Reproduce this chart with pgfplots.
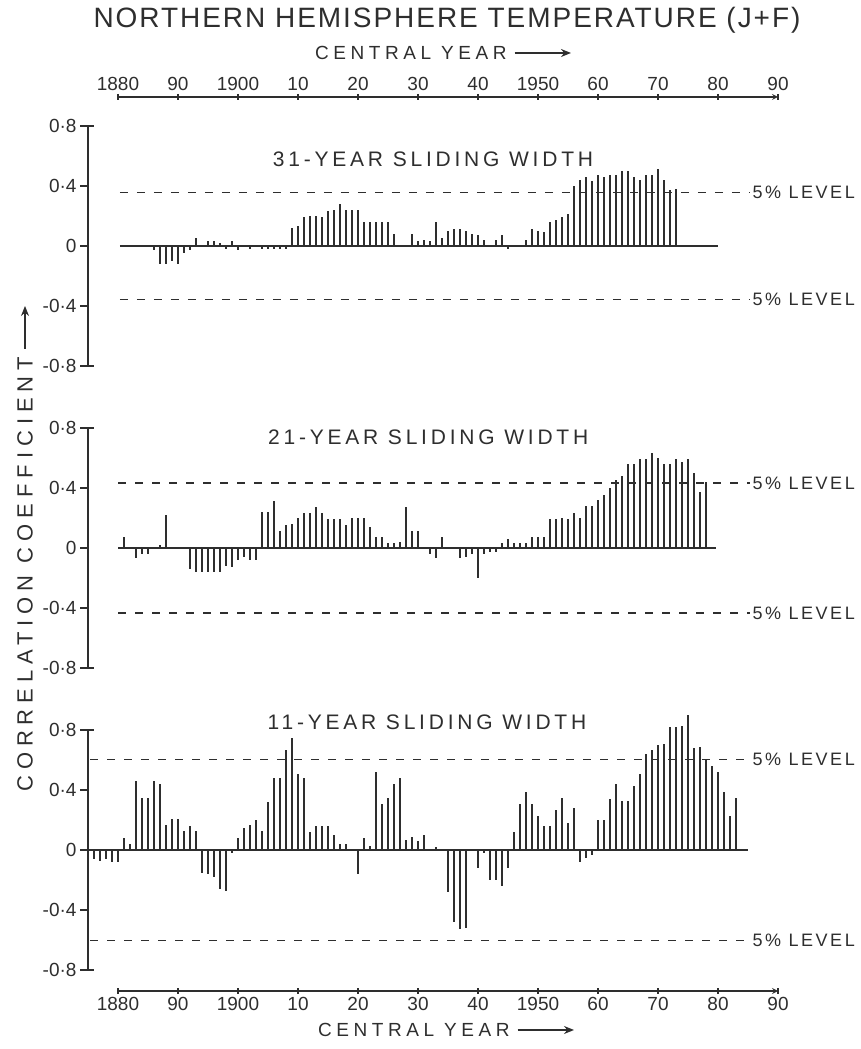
\documentclass[border=0pt]{standalone}
\usepackage{fontspec}
\setmainfont{Liberation Sans}
\newfontfamily\titlefont[LetterSpace=7]{Liberation Sans}
\newfontfamily\panelfont[LetterSpace=18]{Liberation Sans}
\newfontfamily\ylabfont[LetterSpace=27]{Liberation Sans}
\newfontfamily\cyfont[LetterSpace=24]{Liberation Sans}
\newfontfamily\levfont[LetterSpace=14]{Liberation Sans}
\usepackage{pgfplots}
\pgfplotsset{compat=1.18}
\usetikzlibrary{arrows.meta}
\definecolor{ink}{HTML}{2E2E2E}
\begin{document}
\begin{tikzpicture}
\useasboundingbox (0pt,0pt) rectangle (860pt,1049pt);
\pgfplotsset{
  panel/.style={
    scale only axis, width=690pt, height=240pt,
    xmin=1875, xmax=1990, ymin=-0.8, ymax=0.8,
    axis x line=none, axis y line=left,
    y axis line style={-, ink, line width=1.6pt},
    ytick={-0.8,-0.4,0,0.4,0.8},
    yticklabels={-0·8,-0·4,0,0·4,0·8},
    tick align=outside, major tick length=8pt,
    ytick style={ink, line width=1.6pt},
    yticklabel style={font=\fontsize{19}{20}\selectfont, text=ink},
    clip=false,
  },
  bars/.style={ycomb, ink, line width=1.8pt, mark=none},
  zline/.style={ink, line width=1.6pt, mark=none},
  lev/.style={ink, line width=1.4pt, dash pattern=on 8pt off 9pt, mark=none},
  xax/.style={
    scale only axis, width=660pt, height=10pt,
    xmin=1880, xmax=1990, ymin=0, ymax=1, hide y axis,
    x axis line style={-, ink, line width=1.6pt},
    xtick={1880,1890,...,1990},
    xticklabels={1880,90,1900,10,20,30,40,1950,60,70,80,90},
    tick align=inside, major tick length=6pt,
    xtick style={ink, line width=1.6pt},
    xticklabel style={font=\fontsize{19}{20}\selectfont, text=ink},
  },
}
% ---------- title ----------
\node[font=\titlefont\fontsize{28}{32}\selectfont, text=ink] at (447pt,1029pt) {NORTHERN HEMISPHERE TEMPERATURE (J+F)};
\node[anchor=west, inner sep=0, font=\cyfont\fontsize{19}{20}\selectfont, text=ink] (cy1) at (315pt,996pt) {CENTRAL YEAR};
\draw[ink, line width=1.6pt, -{Stealth[length=10pt,width=8pt]}] ([xshift=8pt]cy1.east) -- (571pt,996pt);
% ---------- top x axis ----------
\begin{axis}[xax, at={(118pt,952pt)}, anchor=north west, axis x line=top]
\end{axis}
% ---------- 31-year ----------
\begin{axis}[panel, at={(88pt,683pt)}, anchor=south west]
\addplot[zline] coordinates {(1880.3,0) (1980,0)};
\addplot[lev] coordinates {(1880.3,0.355) (1985.3,0.355)};
\addplot[lev] coordinates {(1880.3,-0.355) (1985.3,-0.355)};
\addplot[bars] coordinates {
(1886,-0.03) (1887,-0.12) (1888,-0.12) (1889,-0.10) (1890,-0.12) (1891,-0.05) (1892,-0.03) (1893,0.05)
(1895,0.03) (1896,0.03) (1897,0.02) (1898,-0.02) (1899,0.03) (1900,-0.03) (1902,-0.02)
(1904,-0.02) (1905,-0.02) (1906,-0.02) (1907,-0.02) (1908,-0.02)
(1909,0.12) (1910,0.13) (1911,0.19) (1912,0.20) (1913,0.20) (1914,0.19) (1915,0.23) (1916,0.24)
(1917,0.28) (1918,0.24) (1919,0.24) (1920,0.24) (1921,0.16) (1922,0.16) (1923,0.16) (1924,0.16)
(1925,0.16) (1926,0.08) (1929,0.08) (1930,0.03) (1931,0.04) (1932,0.03) (1933,0.16) (1934,0.05)
(1935,0.10) (1936,0.11) (1937,0.11) (1938,0.10) (1939,0.08) (1940,0.07) (1941,0.04) (1943,0.04)
(1944,0.07) (1945,-0.02) (1948,0.04) (1949,0.11) (1950,0.10) (1951,0.09) (1952,0.16) (1953,0.17)
(1954,0.19) (1955,0.21) (1956,0.40) (1957,0.44) (1958,0.46) (1959,0.43) (1960,0.47) (1961,0.46)
(1962,0.47) (1963,0.47) (1964,0.50) (1965,0.50) (1966,0.46) (1967,0.44) (1968,0.47) (1969,0.47)
(1970,0.51) (1971,0.44) (1972,0.37) (1973,0.38)};
\draw[ink, line width=1.6pt] (rel axis cs:0,1) -- ++(6pt,0pt);
\draw[ink, line width=1.6pt] (rel axis cs:0,0) -- ++(6pt,0pt);
\node[font=\panelfont\fontsize{21}{24}\selectfont, text=ink] at (axis cs:1932.5,0.58) {31-YEAR SLIDING WIDTH};
\node[anchor=west, inner sep=2pt, font=\levfont\fontsize{18}{20}\selectfont, text=ink] at (axis cs:1985.4,0.355) {5\% LEVEL};
\node[anchor=west, inner sep=2pt, font=\levfont\fontsize{18}{20}\selectfont, text=ink] at (axis cs:1985.4,-0.355) {5\% LEVEL};
\end{axis}
% ---------- 21-year ----------
\begin{axis}[panel, at={(88pt,381pt)}, anchor=south west]
\addplot[zline] coordinates {(1880,0) (1979.7,0)};
\addplot[lev] coordinates {(1880,0.433) (1985.3,0.433)};
\addplot[lev] coordinates {(1880,-0.433) (1985.3,-0.433)};
\addplot[bars] coordinates {
(1881,0.07) (1883,-0.07) (1884,-0.04) (1885,-0.04) (1887,0.02) (1888,0.22) (1889,-0.01)
(1892,-0.14) (1893,-0.16) (1894,-0.16) (1895,-0.16) (1896,-0.16) (1897,-0.16) (1898,-0.12)
(1899,-0.13) (1900,-0.08) (1901,-0.06) (1902,-0.08) (1903,-0.08) (1904,0.24) (1905,0.24)
(1906,0.31) (1907,0.11) (1908,0.15) (1909,0.16) (1910,0.20) (1911,0.23) (1912,0.23) (1913,0.27)
(1914,0.23) (1915,0.19) (1916,0.19) (1917,0.19) (1918,0.15) (1919,0.20) (1920,0.20) (1921,0.20)
(1922,0.14) (1923,0.07) (1924,0.07) (1925,0.03) (1926,0.03) (1927,0.04) (1928,0.27) (1929,0.11)
(1930,0.11) (1932,-0.04) (1933,-0.07) (1934,0.07) (1937,-0.07) (1938,-0.06) (1939,-0.04)
(1940,-0.20) (1941,-0.04) (1942,-0.03) (1943,-0.03) (1944,0.03) (1945,0.06) (1946,0.03)
(1947,0.03) (1948,0.03) (1949,0.07) (1950,0.07) (1951,0.07) (1952,0.19) (1953,0.19) (1954,0.20)
(1955,0.19) (1956,0.23) (1957,0.20) (1958,0.28) (1959,0.28) (1960,0.32) (1961,0.35) (1962,0.40)
(1963,0.45) (1964,0.48) (1965,0.56) (1966,0.56) (1967,0.59) (1968,0.59) (1969,0.63) (1970,0.60)
(1971,0.56) (1972,0.56) (1973,0.59) (1974,0.57) (1975,0.59) (1976,0.50) (1977,0.37) (1978,0.44)};
\draw[ink, line width=1.6pt] (rel axis cs:0,1) -- ++(6pt,0pt);
\draw[ink, line width=1.6pt] (rel axis cs:0,0) -- ++(6pt,0pt);
\node[font=\panelfont\fontsize{21}{24}\selectfont, text=ink] at (axis cs:1931.7,0.74) {21-YEAR SLIDING WIDTH};
\node[anchor=west, inner sep=2pt, font=\levfont\fontsize{18}{20}\selectfont, text=ink] at (axis cs:1985.4,0.433) {5\% LEVEL};
\node[anchor=west, inner sep=2pt, font=\levfont\fontsize{18}{20}\selectfont, text=ink] at (axis cs:1985.4,-0.433) {5\% LEVEL};
\end{axis}
% ---------- 11-year ----------
\begin{axis}[panel, at={(88pt,79pt)}, anchor=south west]
\addplot[zline] coordinates {(1875,0) (1985,0)};
\addplot[lev] coordinates {(1875.4,0.602) (1985.3,0.602)};
\addplot[lev] coordinates {(1875.4,-0.602) (1985.3,-0.602)};
\addplot[bars] coordinates {
(1876,-0.06) (1877,-0.07) (1878,-0.06) (1879,-0.08) (1880,-0.08) (1881,0.08) (1882,0.04)
(1883,0.46) (1884,0.35) (1885,0.35) (1886,0.46) (1887,0.44) (1888,0.17) (1889,0.21) (1890,0.21)
(1891,0.13) (1892,0.16) (1893,0.13) (1894,-0.15) (1895,-0.16) (1896,-0.18) (1897,-0.26)
(1898,-0.27) (1899,-0.02) (1900,0.08) (1901,0.15) (1902,0.17) (1903,0.20) (1904,0.13) (1905,0.32)
(1906,0.48) (1907,0.48) (1908,0.67) (1909,0.75) (1910,0.51) (1911,0.48) (1912,0.12) (1913,0.16)
(1914,0.16) (1915,0.16) (1916,0.10) (1917,0.04) (1918,0.04) (1920,-0.16) (1921,0.08) (1922,0.03)
(1923,0.52) (1924,0.31) (1925,0.35) (1926,0.44) (1927,0.48) (1928,0.07) (1929,0.09) (1930,0.06)
(1931,0.10) (1933,0.02) (1935,-0.28) (1936,-0.48) (1937,-0.53) (1938,-0.52) (1940,-0.12)
(1941,-0.02) (1942,-0.20) (1943,-0.20) (1944,-0.24) (1945,-0.12) (1946,0.12) (1947,0.31)
(1948,0.39) (1949,0.31) (1950,0.23) (1951,0.16) (1952,0.16) (1953,0.27) (1954,0.35) (1955,0.18)
(1956,0.28) (1957,-0.08) (1958,-0.05) (1959,-0.03) (1960,0.20) (1961,0.20) (1962,0.34) (1963,0.44)
(1964,0.33) (1965,0.33) (1966,0.43) (1967,0.51) (1968,0.64) (1969,0.67) (1970,0.70) (1971,0.71)
(1972,0.82) (1973,0.82) (1974,0.83) (1975,0.90) (1976,0.68) (1977,0.69) (1978,0.60) (1979,0.56)
(1980,0.52) (1981,0.39) (1982,0.23) (1983,0.35)};
\draw[ink, line width=1.6pt] (rel axis cs:0,1) -- ++(6pt,0pt);
\draw[ink, line width=1.6pt] (rel axis cs:0,0) -- ++(6pt,0pt);
\node[font=\panelfont\fontsize{21}{24}\selectfont, text=ink] at (axis cs:1931.5,0.853) {11-YEAR SLIDING WIDTH};
\node[anchor=west, inner sep=2pt, font=\levfont\fontsize{18}{20}\selectfont, text=ink] at (axis cs:1985.4,0.602) {5\% LEVEL};
\node[anchor=west, inner sep=2pt, font=\levfont\fontsize{18}{20}\selectfont, text=ink] at (axis cs:1985.4,-0.602) {5\% LEVEL};
\end{axis}
% ---------- bottom x axis ----------
\begin{axis}[xax, at={(118pt,58pt)}, anchor=south west, axis x line=bottom]
\end{axis}
\node[anchor=west, inner sep=0, font=\cyfont\fontsize{19}{20}\selectfont, text=ink] (cy2) at (318pt,19pt) {CENTRAL YEAR};
\draw[ink, line width=1.6pt, -{Stealth[length=10pt,width=8pt]}] ([xshift=8pt]cy2.east) -- (574pt,19pt);
% ---------- y label ----------
\node[rotate=90, anchor=west, inner sep=0, font=\ylabfont\fontsize{22}{24}\selectfont, text=ink] (yl) at (25pt,257pt) {CORRELATION COEFFICIENT};
\draw[ink, line width=1.6pt, -{Stealth[length=10pt,width=8pt]}] ([yshift=8pt]yl.east) -- (25pt,743pt);
\end{tikzpicture}
\end{document}
